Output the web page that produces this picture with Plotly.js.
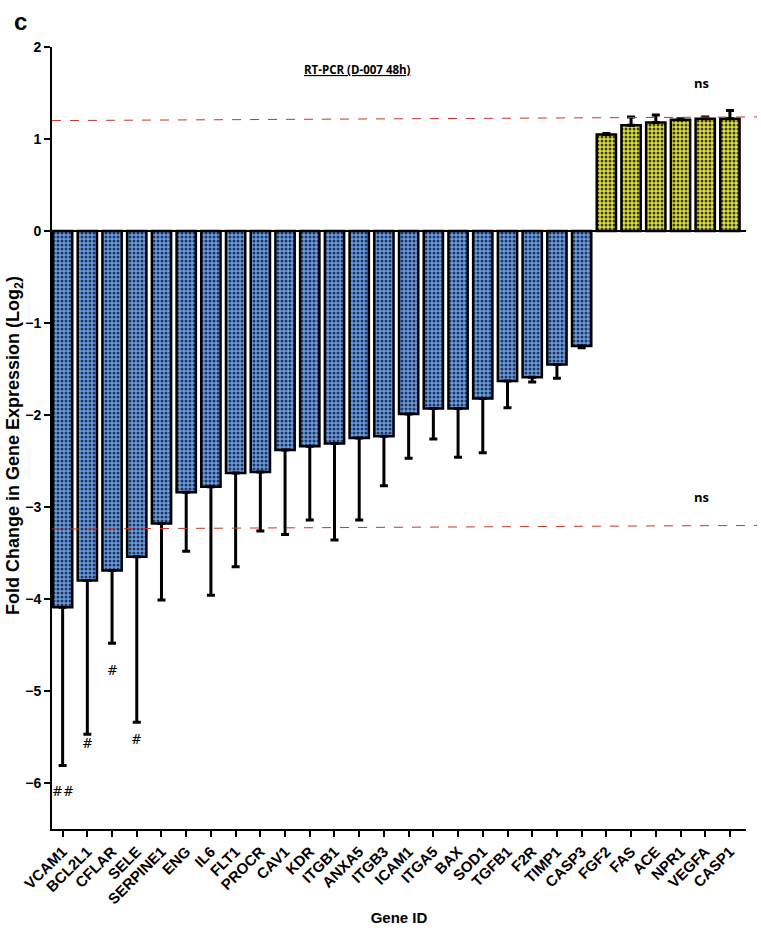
<!DOCTYPE html>
<html>
<head>
<meta charset="utf-8">
<script src="https://cdn.plot.ly/plotly-3.0.1.min.js"></script>
<style>
html,body{margin:0;padding:0;background:#fff;}
#chart{width:761px;height:930px;}
</style>
</head>
<body>
<div id="chart"></div>
<script>
// ---- data ----
var genes = ["VCAM1","BCL2L1","CFLAR","SELE","SERPINE1","ENG","IL6","FLT1","PROCR","CAV1","KDR","ITGB1","ANXA5","ITGB3","ICAM1","ITGA5","BAX","SOD1","TGFB1","F2R","TIMP1","CASP3","FGF2","FAS","ACE","NPR1","VEGFA","CASP1"];
var foldChange = [-4.09,-3.80,-3.69,-3.54,-3.18,-2.84,-2.78,-2.63,-2.62,-2.38,-2.34,-2.31,-2.25,-2.23,-1.99,-1.93,-1.93,-1.82,-1.63,-1.59,-1.45,-1.25,1.05,1.15,1.18,1.21,1.22,1.22];
var errorSize = [1.72,1.67,0.79,1.80,0.83,0.64,1.18,1.02,0.64,0.92,0.80,1.05,0.89,0.54,0.48,0.33,0.53,0.59,0.29,0.05,0.15,0.02,0.01,0.09,0.08,0.01,0.02,0.09];
var thresholdUpper = 1.22;
var thresholdLower = -3.22;
var sigGenes = ["VCAM1","BCL2L1","CFLAR","SELE"];
var sigLabels = ["##","#","#","#"];
var sigY = [-6.09,-5.57,-4.78,-5.53];
var nsLabels = ["ns","ns"];
var nsY = [1.61,-2.89];
var yTicks = [2,1,0,-1,-2,-3,-4,-5,-6];
var yTitle = "Fold Change in Gene Expression (Log<sub>2</sub>)";
var xTitle = "Gene ID";

// ---- split into down / up regulated ----
var downX=[],downY=[],downE=[],upX=[],upY=[],upE=[];
for (var i=0;i<genes.length;i++){
  if (foldChange[i]<0){downX.push(genes[i]);downY.push(foldChange[i]);downE.push(errorSize[i]);}
  else {upX.push(genes[i]);upY.push(foldChange[i]);upE.push(errorSize[i]);}
}
var zeros = function(a){return a.map(function(){return 0;});};

var baseFont = "Liberation Sans, Arial, sans-serif";

var traceDown = {
  type:"bar", x:downX, y:downY, width:0.78,
  marker:{color:"#4a7bc2", line:{color:"#000",width:2.5},
    pattern:{shape:".", size:4, solidity:0.45, fgcolor:"#22365e", bgcolor:"#6b9de2", fillmode:"replace"}},
  error_y:{type:"data", symmetric:false, array:zeros(downE), arrayminus:downE, color:"#000", thickness:3, width:4},
  hoverinfo:"x+y", showlegend:false
};
var traceUp = {
  type:"bar", x:upX, y:upY, width:0.78,
  marker:{color:"#c4c438", line:{color:"#000",width:2.5},
    pattern:{shape:".", size:4, solidity:0.45, fgcolor:"#3c3c14", bgcolor:"#e2e23e", fillmode:"replace"}},
  error_y:{type:"data", symmetric:false, array:upE, arrayminus:zeros(upE), color:"#000", thickness:3, width:4},
  hoverinfo:"x+y", showlegend:false
};

var annotations = [];
for (var k=0;k<sigGenes.length;k++){
  annotations.push({x:sigGenes[k], y:sigY[k], xref:"x", yref:"y", text:sigLabels[k], showarrow:false,
    font:{family:"DejaVu Serif, serif", size:13, color:"#000"}});
}
for (var n=0;n<nsLabels.length;n++){
  annotations.push({x:0.95, y:nsY[n], xref:"paper", yref:"y", text:nsLabels[n], showarrow:false,
    font:{family:"Open Sans, sans-serif", size:13, color:"#000", weight:700}});
}
annotations.push({x:0.44, y:0.983, xref:"paper", yref:"paper", text:"<u>RT-PCR (D-007 48h)</u>", showarrow:false,
  font:{family:"Open Sans, sans-serif", size:11.5, color:"#000", weight:700}});
annotations.push({x:-0.046, y:1.032, xref:"paper", yref:"paper", xanchor:"center", yanchor:"middle", text:"c", showarrow:false,
  font:{family:baseFont, size:24, color:"#000", weight:700}});
annotations.push({x:-0.0548, y:0.491, xref:"paper", yref:"paper", xanchor:"center", yanchor:"middle", textangle:-90,
  text:yTitle, showarrow:false, font:{family:baseFont, size:18, color:"#000", weight:700}});

var layout = {
  width:761, height:930,
  margin:{l:52, r:15, t:47, b:101},
  paper_bgcolor:"#fff", plot_bgcolor:"#fff",
  barmode:"overlay",
  font:{family:baseFont, color:"#000"},
  xaxis:{
    type:"category", categoryorder:"array", categoryarray:genes,
    range:[-0.43,27.65], showline:true, linecolor:"#000", linewidth:2,
    ticks:"outside", ticklen:6, tickwidth:2, tickcolor:"#000",
    tickangle:-45, tickfont:{family:baseFont, size:15, color:"#000", weight:700},
    showgrid:false, zeroline:false, automargin:false,
    title:{text:xTitle, font:{family:baseFont, size:15, color:"#000", weight:700}, standoff:6}
  },
  yaxis:{
    range:[-6.5,2], tickvals:yTicks, showline:true, linecolor:"#000", linewidth:2,
    ticks:"outside", ticklen:6, tickwidth:2, tickcolor:"#000",
    tickfont:{family:baseFont, size:14, color:"#000", weight:700},
    showgrid:false, zeroline:true, zerolinecolor:"#000", zerolinewidth:2, automargin:false
  },
  shapes:[
    {type:"line", xref:"paper", yref:"y", x0:0, x1:1.016, y0:thresholdUpper-0.02, y1:thresholdUpper+0.02, layer:"above",
      line:{color:"#c0392b", width:1, dash:"dash"}},
    {type:"line", xref:"paper", yref:"y", x0:0, x1:1.016, y0:thresholdLower-0.02, y1:thresholdLower+0.02, layer:"above",
      line:{color:"#c0392b", width:1, dash:"dash"}}
  ],
  annotations:annotations
};

Plotly.newPlot("chart",[traceDown,traceUp],layout,{displayModeBar:false,staticPlot:true});
</script>
</body>
</html>
